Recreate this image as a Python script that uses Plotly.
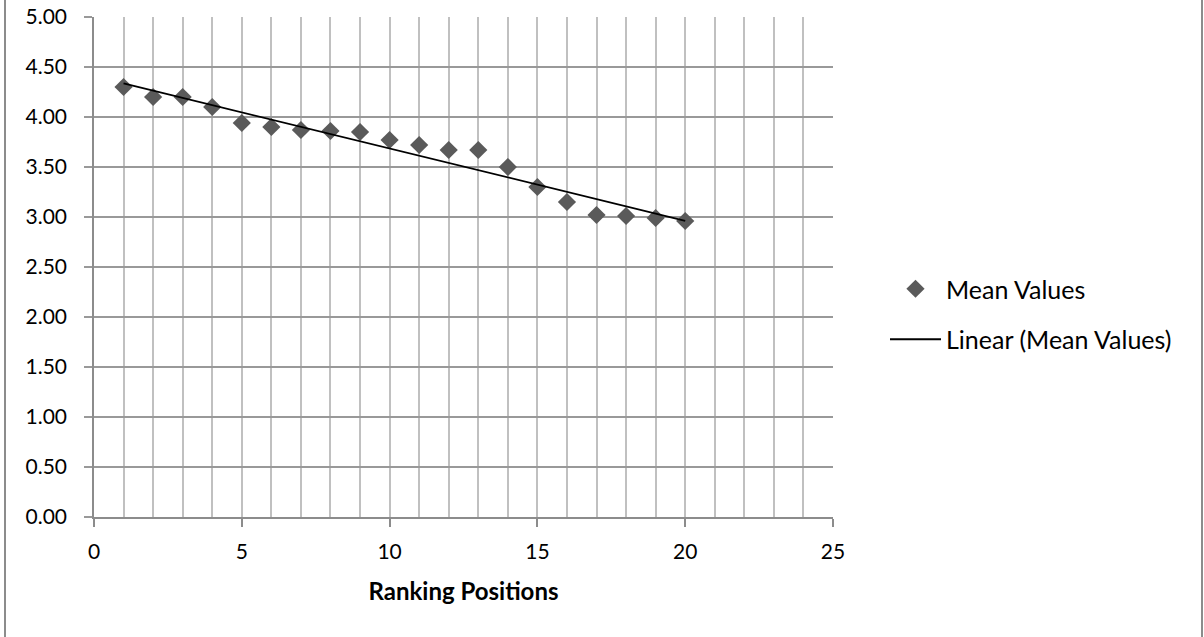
import numpy as np
import plotly.graph_objects as go

positions = list(range(1, 21))
mean_values = [4.30, 4.20, 4.20, 4.10, 3.94, 3.90, 3.87, 3.86, 3.85, 3.77,
               3.72, 3.67, 3.67, 3.50, 3.30, 3.15, 3.02, 3.01, 2.99, 2.96]
y_tick_vals = [0, 0.5, 1, 1.5, 2, 2.5, 3, 3.5, 4, 4.5, 5]
y_tick_text = ["0.00", "0.50", "1.00", "1.50", "2.00", "2.50", "3.00", "3.50", "4.00", "4.50", "5.00"]
x_tick_vals = [0, 5, 10, 15, 20, 25]

# Linear trendline (least squares), as in the original chart
slope, intercept = np.polyfit(positions, mean_values, 1)
trend_x = [positions[0], positions[-1]]
trend_y = [slope * x + intercept for x in trend_x]

FONT = "Lato"

fig = go.Figure()
fig.add_trace(go.Scatter(
    x=positions, y=mean_values, mode="markers", name="Mean Values",
    marker=dict(symbol="diamond", size=14, color="#5a5a5a"),
    legendgroup="a",
))
fig.add_trace(go.Scatter(
    x=trend_x, y=trend_y, mode="lines", name="Linear (Mean Values)",
    line=dict(color="black", width=1.8),
    legendgroup="b",
))

fig.update_layout(
    width=1204, height=637,
    margin=dict(l=94, r=371, t=17, b=120, autoexpand=False),
    paper_bgcolor="white", plot_bgcolor="white",
    font=dict(family=FONT, size=21, color="black"),
    showlegend=True,
    legend=dict(x=(885 - 94) / 739, y=0.406, xanchor="left", yanchor="middle",
                font=dict(family=FONT, size=25), tracegroupgap=15,
                itemwidth=51, bgcolor="rgba(0,0,0,0)"),
    shapes=[dict(type="rect", xref="paper", yref="paper",
                 x0=(5 - 94) / 739, x1=(1202 - 94) / 739, y0=-0.4, y1=1.2,
                 line=dict(color="#8c8c8c", width=2), layer="below")],
)
fig.update_xaxes(
    range=[0, 25], tickmode="array", tickvals=x_tick_vals,
    showgrid=True, gridcolor="#c0c0c0", gridwidth=1.5,
    minor=dict(dtick=1, showgrid=True, gridcolor="#c0c0c0", gridwidth=1.5),
    showline=True, linecolor="#8c8c8c", linewidth=1.5,
    ticks="outside", ticklen=8, tickcolor="#8c8c8c", tickwidth=1.5,
    ticklabelstandoff=7, automargin=False,
    zeroline=False, mirror=False,
    title=dict(text="<b>Ranking Positions</b>", font=dict(family=FONT, size=24), standoff=21),
)
fig.update_yaxes(
    range=[0, 5], tickmode="array", tickvals=y_tick_vals, ticktext=y_tick_text,
    showgrid=True, gridcolor="#999999", gridwidth=1.5,
    showline=True, linecolor="#8c8c8c", linewidth=1.5,
    ticks="outside", ticklen=8, tickcolor="#999999", tickwidth=1.5,
    ticklabelstandoff=13, automargin=False,
    zeroline=False,
)

fig.write_html("out.html", config={"displayModeBar": False},
               post_script="document.body.style.margin='0';")
